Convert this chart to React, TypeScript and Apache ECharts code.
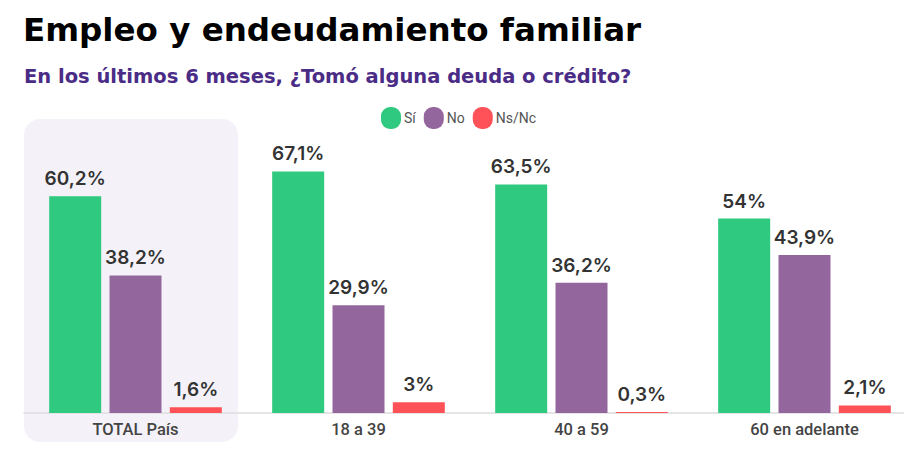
import { useEffect, useRef } from 'react'
import * as echarts from 'echarts'

const categories = ['TOTAL País', '18 a 39', '40 a 59', '60 en adelante']
const siValues = [60.2, 67.1, 63.5, 54]
const noValues = [38.2, 29.9, 36.2, 43.9]
const nsncValues = [1.6, 3, 0.3, 2.1]

// pill-shaped legend marker
const pill =
  'path://M9,0 H11 A9,9 0 0 1 20,9 V13 A9,9 0 0 1 11,22 H9 A9,9 0 0 1 0,13 V9 A9,9 0 0 1 9,0 Z'

const fmt = (p: any) => String(p.value).replace('.', ',') + '%'

function makeSeries(name: string, data: number[], color: string) {
  return {
    name,
    type: 'bar',
    data,
    barWidth: 52,
    barGap: '16%',
    itemStyle: { color },
    label: {
      show: true,
      position: 'top',
      distance: 8,
      formatter: fmt,
      color: '#333333',
      fontSize: 19,
      fontWeight: 600,
      fontFamily: 'Inter',
    },
  }
}

export default function App() {
  const chartRef = useRef<HTMLDivElement | null>(null)

  useEffect(() => {
    if (!chartRef.current) {
      return
    }

    const chart = echarts.init(chartRef.current, null, { renderer: 'svg' })

    chart.setOption({
      animation: false,
      backgroundColor: '#ffffff',
      title: [
        {
          text: 'Empleo y endeudamiento familiar',
          left: 18,
          top: 8,
          textStyle: {
            fontFamily: 'DejaVu Sans',
            fontSize: 32.5,
            fontWeight: 700,
            color: '#000000',
          },
        },
        {
          text: 'En los últimos 6 meses, ¿Tomó alguna deuda o crédito?',
          left: 19,
          top: 61,
          textStyle: {
            fontFamily: 'DejaVu Sans',
            fontSize: 19.5,
            fontWeight: 700,
            color: '#4a2c86',
          },
        },
      ],
      legend: {
        left: 376,
        top: 102,
        itemWidth: 20,
        itemHeight: 22,
        itemGap: 8,
        icon: pill,
        textStyle: { fontFamily: 'Roboto', fontSize: 14, color: '#555555', padding: [0, 0, 0, -2] },
      },
      graphic: [
        {
          type: 'rect',
          z: -10,
          shape: { x: 24, y: 119, width: 214, height: 323, r: 16 },
          style: { fill: '#f4f2f8' },
        },
      ],
      grid: {
        left: 24,
        right: 0,
        top: 125,
        bottom: 49,
      },
      xAxis: {
        type: 'category',
        data: categories,
        axisLine: { lineStyle: { color: '#dddddd', width: 1.5 } },
        axisTick: { show: false },
        axisLabel: {
          fontFamily: 'Roboto',
          fontSize: 16.5,
          fontWeight: 500,
          color: '#444444',
          margin: 8,
        },
      },
      yAxis: {
        type: 'value',
        min: 0,
        max: 80,
        show: false,
      },
      series: [
        makeSeries('Sí', siValues, '#2fc97f'),
        makeSeries('No', noValues, '#93669d'),
        makeSeries('Ns/Nc', nsncValues, '#fe5258'),
      ],
    })

    return () => {
      chart.dispose()
    }
  }, [])

  return (
    <div
      style={{ position: 'fixed', left: 0, top: 0, width: 904, height: 462, overflow: 'hidden' }}
    >
      <div ref={chartRef} style={{ width: 916, height: 462 }} />
    </div>
  )
}
